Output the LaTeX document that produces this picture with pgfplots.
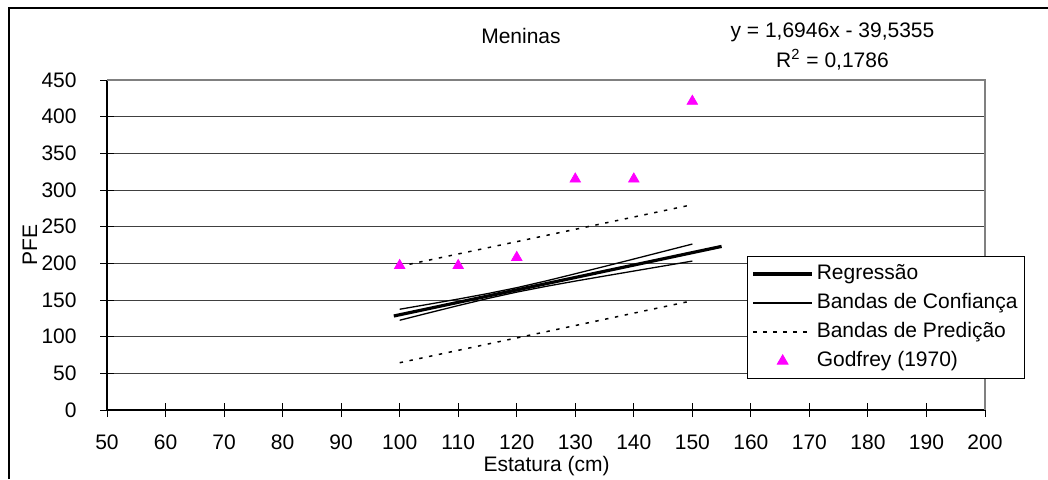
\documentclass[border=0pt]{standalone}
\usepackage{fontspec}
\setmainfont{Liberation Sans}
\usepackage{pgfplots}
\pgfplotsset{compat=1.18}
\definecolor{gridc}{HTML}{404040}
\definecolor{framec}{HTML}{808080}
\definecolor{godfrey}{HTML}{FF00FF}
\pgfplotsset{
  lineleg/.style={legend image code/.code={\draw[##1] (0pt,0pt) -- (29.5pt,0pt);}},
  markleg/.style={legend image code/.code={\draw[##1] plot coordinates {(14.75pt,0pt)};}},
}
\begin{document}
\fontsize{10.5}{12.6}\selectfont
\begin{tikzpicture}
\useasboundingbox (0,0) rectangle (524pt,239.5pt);
\draw[black, line width=0.7pt] (4.5pt,0pt) -- (4.5pt,235.5pt) -- (524pt,235.5pt);
\begin{axis}[
  at={(53.5pt,34.5pt)}, anchor=south west,
  scale only axis, width=439pt, height=165pt,
  xmin=50, xmax=200, ymin=0, ymax=450,
  xtick={50,60,...,200}, ytick={0,50,...,450},
  axis lines*=left,
  clip=false,
  font=\fontsize{10.5}{12.6}\selectfont,
  ymajorgrids, major grid style={gridc, line width=0.5pt},
  tick align=center, major tick length=7pt,
  tick style={black, line width=0.5pt},
  axis line style={black, line width=0.6pt},
  xticklabel style={yshift=-5pt},
  yticklabel style={xshift=-8pt},
  /pgf/number format/assume math mode=true,
  every axis title shift=0pt,
  title={Meninas}, title style={at={(0.4715,1.1333)}, anchor=center},
  xlabel={Estatura (cm)}, xlabel style={at={(0.5006,-0.1697)}, anchor=center},
  ylabel={PFE}, ylabel style={at={(-0.0877,0.5)}, anchor=center},
  legend cell align=left,
  legend style={at={(0.729,0.4667)}, anchor=north west, draw=black, line width=0.5pt,
    fill=white, inner xsep=2pt, inner ysep=2pt, row sep=1pt,
    nodes={inner sep=1.5pt, text height=8pt, text depth=2.5pt},
    font=\fontsize{10.5}{12.6}\selectfont},
]
\addplot[black, line width=1.6pt, lineleg] coordinates {(99,128.2) (155,223.1)};
\addlegendentry{Regressão}
\addplot[black, line width=0.65pt, lineleg] coordinates {
  (100,137.4) (105,144.3) (110,151.3) (115,158.7) (120,166.8) (125,176.0)
  (130,185.8) (135,195.8) (140,205.9) (145,216.1) (150,226.3)};
\addlegendentry{Bandas de Confiança}
\addplot[black, line width=0.65pt, forget plot] coordinates {
  (100,122.4) (105,132.5) (110,142.4) (115,152.0) (120,160.8) (125,168.6)
  (130,175.8) (135,182.7) (140,189.5) (145,196.3) (150,203.1)};
\addplot[black, line width=0.75pt, dash pattern=on 1.7pt off 3.3pt, lineleg] coordinates {(100,196) (150,280)};
\addlegendentry{Bandas de Predição}
\addplot[black, line width=0.75pt, dash pattern=on 1.7pt off 3.3pt, forget plot] coordinates {(100,64.5) (150,149)};
\addplot[only marks, mark=triangle*, mark size=3pt, color=godfrey, markleg] coordinates {(100,197) (110,197) (120,208) (130,315) (140,315) (150,421)};
\addlegendentry{Godfrey (1970)}
\draw[framec, line width=0.7pt] (rel axis cs:0,1) -- (rel axis cs:1,1) -- (rel axis cs:1,0);
\node at (rel axis cs:0.8263,1.1455) {y = 1,6946x - 39,5355};
\node at (rel axis cs:0.8263,1.0606) {R\textsuperscript{2} = 0,1786};
\end{axis}
\end{tikzpicture}
\end{document}
